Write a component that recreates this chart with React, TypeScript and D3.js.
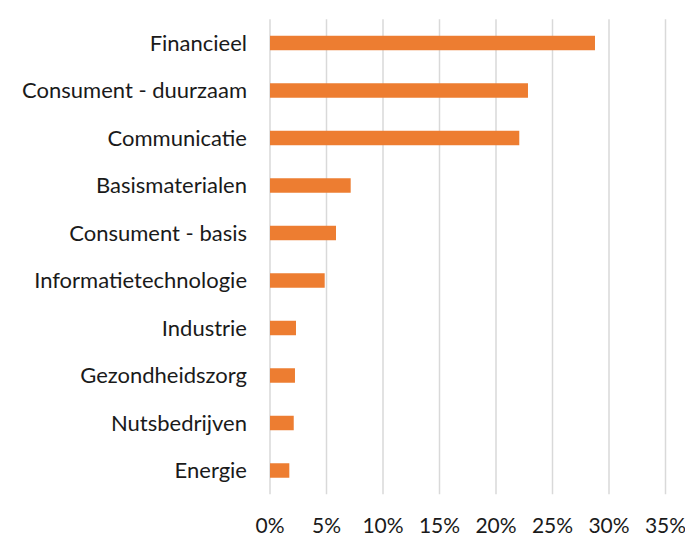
import React, { useEffect, useRef } from 'react';
import * as d3 from 'd3';

const categories = [
  'Financieel',
  'Consument - duurzaam',
  'Communicatie',
  'Basismaterialen',
  'Consument - basis',
  'Informatietechnologie',
  'Industrie',
  'Gezondheidszorg',
  'Nutsbedrijven',
  'Energie',
];
const values = [28.76, 22.83, 22.06, 7.14, 5.84, 4.84, 2.3, 2.21, 2.1, 1.71];
const ticks = [0, 5, 10, 15, 20, 25, 30, 35];

export default function App() {
  const ref = useRef<SVGSVGElement>(null);

  useEffect(() => {
    const svg = d3.select(ref.current);
    svg.selectAll('*').remove();

    const width = 685;
    const height = 539;
    const left = 270;
    const right = 665.5;
    const top = 19.25;
    const bottom = 494.25;
    const font = 'Lato, "Open Sans", sans-serif';

    const x = d3.scaleLinear().domain([0, 35]).range([left, right]);
    const y = d3.scaleBand<string>().domain(categories).range([top, bottom]).paddingInner(0.695).paddingOuter(0.3475);

    svg.attr('width', width).attr('height', height);

    // gridlines
    svg.append('g')
      .selectAll('line')
      .data(ticks)
      .enter()
      .append('line')
      .attr('x1', d => x(d))
      .attr('x2', d => x(d))
      .attr('y1', top)
      .attr('y2', bottom)
      .attr('stroke', '#d9d9d9')
      .attr('stroke-width', 1.5);

    // bars
    svg.append('g')
      .selectAll('rect')
      .data(values)
      .enter()
      .append('rect')
      .attr('x', x(0))
      .attr('y', (d, i) => y(categories[i]) as number)
      .attr('width', d => x(d) - x(0))
      .attr('height', y.bandwidth())
      .attr('fill', '#ED7D31');

    // category labels
    svg.append('g')
      .selectAll('text')
      .data(categories)
      .enter()
      .append('text')
      .attr('x', 247)
      .attr('y', d => (y(d) as number) + y.bandwidth() / 2)
      .attr('dy', '0.35em')
      .attr('text-anchor', 'end')
      .attr('font-family', font)
      .attr('font-size', 22)
      .attr('fill', '#1a1a1a')
      .text(d => d);

    // tick labels
    svg.append('g')
      .selectAll('text')
      .data(ticks)
      .enter()
      .append('text')
      .attr('x', d => x(d))
      .attr('y', 533)
      .attr('text-anchor', 'middle')
      .attr('font-family', font)
      .attr('font-size', 21)
      .attr('fill', '#1a1a1a')
      .text(d => `${d}%`);
  }, []);

  return <svg ref={ref} style={{ position: 'absolute', left: 0, top: 0 }}></svg>;
}
